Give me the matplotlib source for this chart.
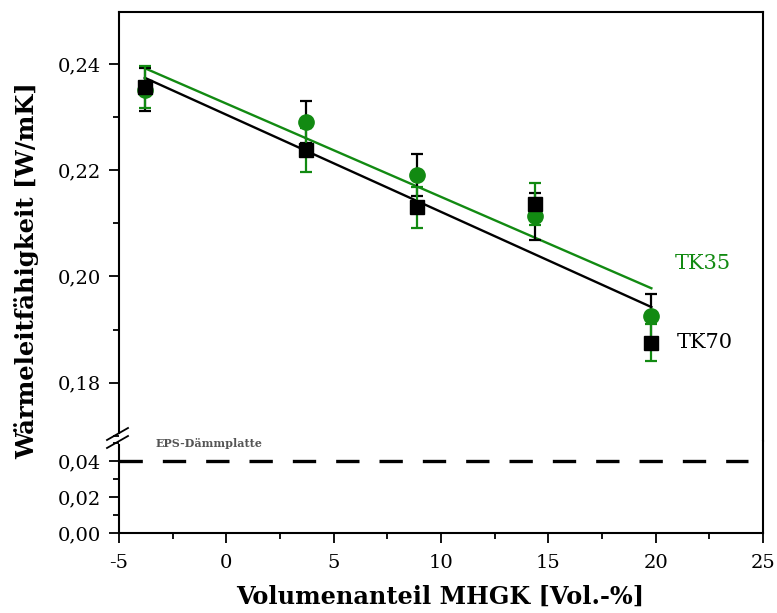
import matplotlib
matplotlib.use("Agg")
import matplotlib.pyplot as plt
from matplotlib.lines import Line2D
from matplotlib.ticker import MultipleLocator, FuncFormatter
import numpy as np

# values
vol_mhgk = [-3.8, 3.7, 8.9, 14.4, 19.8]
tk35 = [0.2352, 0.2291, 0.2191, 0.2113, 0.1925]
tk35_err = [0.0040, 0.0039, 0.0039, 0.0044, 0.0041]
tk70 = [0.2357, 0.2238, 0.2130, 0.2136, 0.1875]
tk70_err = [0.0040, 0.0042, 0.0039, 0.0040, 0.0035]
eps_value = 0.04

GREEN = "#128a12"
plt.rcParams["font.family"] = ["DejaVu Serif"]

fig = plt.figure(figsize=(7.77, 6.13), dpi=100)
W, H = 777, 613
left, right = 119 / W, 763 / W
top, split, bottom = 1 - 12 / H, 1 - 441 / H, 1 - 533 / H

ax_hi = fig.add_axes([left, split, right - left, top - split])
ax_lo = fig.add_axes([left, bottom, right - left, split - bottom], sharex=ax_hi)

# fitted lines
for y, col in [(tk35, GREEN), (tk70, "black")]:
    k, d = np.polyfit(vol_mhgk, y, 1)
    xs = np.array([min(vol_mhgk), max(vol_mhgk)])
    ax_hi.plot(xs, k * xs + d, color=col, lw=1.7, zorder=2)

ax_hi.errorbar(vol_mhgk, tk35, yerr=tk35_err, fmt="o", color=GREEN, ecolor="black",
               ms=11, elinewidth=1.6, capsize=4.5, capthick=1.6, zorder=3)
ax_hi.errorbar(vol_mhgk, tk70, yerr=tk70_err, fmt="s", color="black", ecolor=GREEN,
               ms=10.5, elinewidth=1.6, capsize=4.5, capthick=1.6, zorder=4)

ax_hi.text(22.2, 0.2025, "TK35", color=GREEN, fontsize=15, ha="center", va="center")
ax_hi.text(22.3, 0.1875, "TK70", color="black", fontsize=15, ha="center", va="center")

ax_lo.plot([-5, 24.3], [eps_value, eps_value], color="black", lw=2.4, dashes=(7, 6))
ax_lo.text(-3.3, 0.0497, "EPS-Dämmplatte", fontsize=8, fontweight="bold",
           color="#555555", ha="left", va="center")

ax_hi.set_xlim(-5, 25)
ax_hi.set_ylim(0.169, 0.2498)
ax_lo.set_ylim(0, 0.0511)

fmt = FuncFormatter(lambda v, p: f"{v:.2f}".replace(".", ","))
for ax in (ax_hi, ax_lo):
    for s in ax.spines.values():
        s.set_linewidth(1.5)
    ax.tick_params(which="major", direction="out", length=7, width=1.3, labelsize=14)
    ax.tick_params(which="minor", direction="out", length=4, width=1.3)
    ax.tick_params(axis="y", pad=6)
    ax.tick_params(axis="x", pad=8)
    ax.yaxis.set_major_formatter(fmt)

ax_hi.yaxis.set_major_locator(MultipleLocator(0.02))
ax_hi.yaxis.set_minor_locator(MultipleLocator(0.01))
ax_lo.yaxis.set_major_locator(MultipleLocator(0.02))
ax_lo.yaxis.set_minor_locator(MultipleLocator(0.01))
ax_lo.xaxis.set_major_locator(MultipleLocator(5))
ax_lo.xaxis.set_minor_locator(MultipleLocator(2.5))
ax_lo.xaxis.set_major_formatter(FuncFormatter(lambda v, p: f"{v:g}"))

ax_hi.spines["bottom"].set_visible(False)
ax_lo.spines["top"].set_visible(False)
ax_hi.tick_params(axis="x", which="both", bottom=False, labelbottom=False)
ax_hi.spines["left"].set_bounds(0.1706, 0.2498)
ax_lo.spines["left"].set_bounds(0, 0.0488)

# break marks on the left axis
for dy in (0, 8):
    fig.add_artist(Line2D([107 / W, 128 / W], [1 - (445 + dy - 5) / H, 1 - (433 + dy - 5) / H],
                          color="black", lw=1.3))

fig.text(440 / W, 1 - 597 / H, "Volumenanteil MHGK [Vol.-%]", fontsize=17.3,
         fontweight="bold", ha="center", va="center")
fig.text(27 / W, 1 - 271 / H, "Wärmeleitfähigkeit [W/mK]", fontsize=17.5,
         fontweight="bold", ha="center", va="center", rotation=90)

fig.savefig("out.png", dpi=100)
